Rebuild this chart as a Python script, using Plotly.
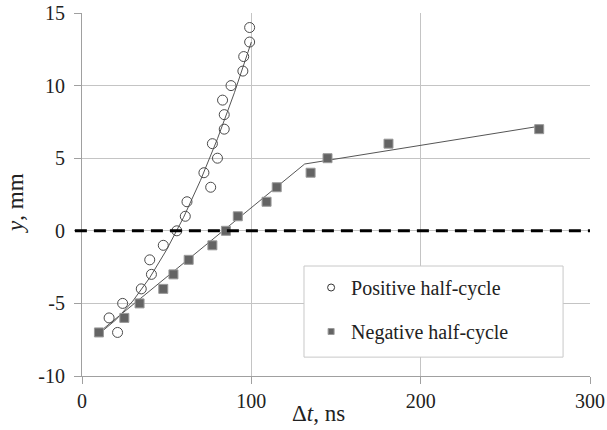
import plotly.graph_objects as go

# Positive half-cycle (open circles)
pos_x = [16, 21, 24, 35, 40, 41, 48, 56, 61, 62, 72, 76, 80, 77, 84, 84, 83, 88, 95, 95.5, 99, 99]
pos_y = [-6, -7, -5, -4, -2, -3, -1, 0, 1, 2, 4, 3, 5, 6, 7, 8, 9, 10, 11, 12, 13, 14]

# Negative half-cycle (filled squares)
neg_x = [10, 25, 34, 48, 54, 63, 77, 85, 92, 109, 115, 135, 145, 181, 270]
neg_y = [-7, -6, -5, -4, -3, -2, -1, 0, 1, 2, 3, 4, 5, 6, 7]

# Trend lines
pos_fit_x = [9, 20, 30, 40, 50, 60, 70, 80, 90, 100]
pos_fit_y = [-7.2, -6.13, -4.84, -3.23, -1.30, 0.93, 3.48, 6.34, 9.51, 13.0]
neg_fit_x = [9.5, 131.5, 270]
neg_fit_y = [-7.05, 4.6, 7.2]

x_ticks = [0, 100, 200, 300]
y_ticks = [-10, -5, 0, 5, 10, 15]

FONT = "Liberation Serif, Times New Roman, serif"
TXT = "#222222"

fig = go.Figure()

fig.add_trace(go.Scatter(x=pos_fit_x, y=pos_fit_y, mode="lines",
                         line=dict(color="#555555", width=1), showlegend=False, hoverinfo="skip"))
fig.add_trace(go.Scatter(x=neg_fit_x, y=neg_fit_y, mode="lines",
                         line=dict(color="#555555", width=1), showlegend=False, hoverinfo="skip"))

fig.add_trace(go.Scatter(x=pos_x, y=pos_y, mode="markers", showlegend=False,
                         marker=dict(symbol="circle-open", size=10, color="#4a4a4a",
                                     line=dict(width=1, color="#4a4a4a"))))
fig.add_trace(go.Scatter(x=neg_x, y=neg_y, mode="markers", showlegend=False,
                         marker=dict(symbol="square", size=9, color="#646464",
                                     line=dict(width=1, color="#9a9a9a"))))

# legend-only entries with small markers
fig.add_trace(go.Scatter(x=[None], y=[None], mode="markers", name="Positive half-cycle",
                         legendgroup="a",
                         marker=dict(symbol="circle-open", size=7, color="#333333",
                                     line=dict(width=1, color="#333333"))))
fig.add_trace(go.Scatter(x=[None], y=[None], mode="markers", name="Negative half-cycle",
                         legendgroup="b",
                         marker=dict(symbol="square", size=6, color="#646464",
                                     line=dict(width=1, color="#9a9a9a"))))

# zero dashed line
fig.add_shape(type="line", xref="paper", yref="y", x0=-0.014, x1=1, y0=0, y1=0,
              line=dict(color="black", width=3, dash="12px,7px"), layer="above")

# legend box
fig.add_shape(type="rect", xref="paper", yref="paper", x0=0.437, x1=0.947, y0=0.052, y1=0.303,
              line=dict(color="#c8c8c8", width=1), fillcolor="white", layer="above")

axis_common = dict(showgrid=True, gridcolor="#c4c4c4", gridwidth=1,
                   showline=True, linecolor="#a0a0a0", linewidth=1,
                   ticks="outside", ticklen=7, tickcolor="#a0a0a0", automargin=False,
                   zeroline=False, tickfont=dict(family=FONT, size=20, color=TXT))

fig.update_xaxes(range=[0, 300], tickvals=x_ticks, ticktext=[str(v) for v in x_ticks], **axis_common)
fig.update_yaxes(range=[-10, 15], tickvals=y_ticks, ticktext=[str(v) for v in y_ticks],
                 ticklabelstandoff=5, **axis_common)

fig.add_annotation(text="Δ<i>t</i>, ns", xref="paper", yref="paper", x=0.465, y=-0.102,
                   yanchor="middle", showarrow=False, font=dict(family=FONT, size=23, color=TXT))
fig.add_annotation(text="<i>y</i>, mm", xref="paper", yref="paper", x=-0.13, y=0.4766,
                   textangle=-90, xanchor="center", yanchor="middle", showarrow=False,
                   font=dict(family=FONT, size=23, color=TXT))

fig.update_layout(
    width=607, height=430,
    margin=dict(l=82, r=17, t=13, b=54, autoexpand=False),
    plot_bgcolor="white", paper_bgcolor="white",
    font=dict(family=FONT, size=20, color=TXT),
    showlegend=True,
    legend=dict(x=0.451, y=0.2975, xanchor="left", yanchor="top",
                bgcolor="rgba(0,0,0,0)", borderwidth=0, tracegroupgap=15,
                font=dict(family=FONT, size=20, color=TXT)),
)

fig.write_html("out.html")
